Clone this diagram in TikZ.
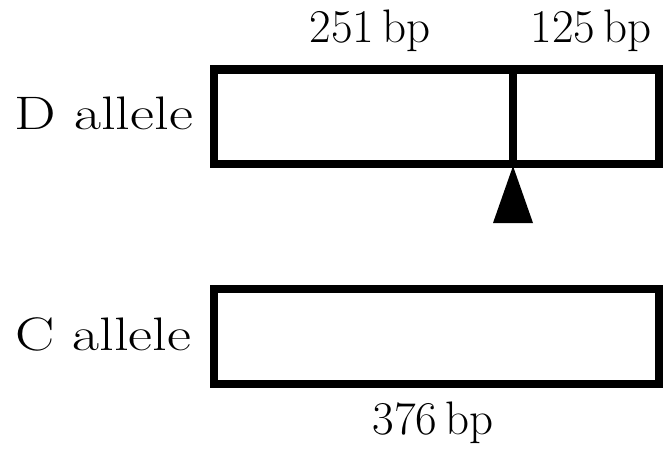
\documentclass[tikz,border=0pt]{standalone}
\begin{document}
\begin{tikzpicture}[x=1pt,y=-1pt,
  seg/.style={draw=black,line width=8.5pt,fill=white,rectangle,inner sep=0pt,minimum width=445pt,minimum height=94.5pt},
  lbl/.style={font=\fontsize{47}{56}\selectfont,anchor=base,inner sep=0pt},
  arrowmark/.style={fill=black,draw=none}]
\useasboundingbox (0,0) rectangle (664,450);
\node[seg] (dbox) at (436.5,116.75) {};
\coordinate (dtop) at (513,69.5);
\coordinate (dbot) at (513,164);
\draw[line width=8.5pt] (dtop) -- (dbot);
\node[seg,minimum height=95pt] (cbox) at (436.5,336.5) {};
\coordinate (apex) at (513,166);
\fill[arrowmark] (apex) -- (533,223) -- (493,223) -- cycle;
\node[lbl] (l251) at (370,42) {251\,bp};
\node[lbl] (l125) at (591,42) {125\,bp};
\node[lbl] (dall) at (104,129) {\scalebox{1.25}[1]{D allele}};
\node[lbl] (call) at (103.5,350) {\scalebox{1.25}[1]{C allele}};
\node[lbl] (l376) at (433,434) {376\,bp};
\end{tikzpicture}
\end{document}
